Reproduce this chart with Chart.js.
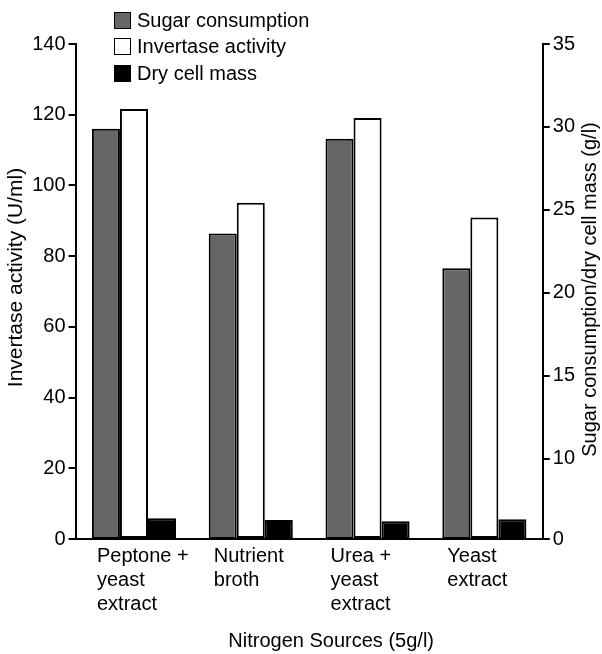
<!DOCTYPE html>
<html lang="en">
<head>
    <meta charset="UTF-8">
    <title>Nitrogen sources</title>
    <script src="https://cdn.jsdelivr.net/npm/chart.js"></script>
    <style>
        body { margin: 0; background: #fff; }
        #wrap { position: relative; width: 602px; height: 654px; }
        #legend { position: absolute; left: 114px; top: 7px; font: 20px 'Liberation Sans', Arial, sans-serif; color: #000; }
        #legend div { display: flex; align-items: center; height: 26.5px; }
        #legend span.box { display: inline-block; width: 15px; height: 15px; border: 1px solid #000; margin-right: 6px; }
    </style>
</head>
<body>
<div id="wrap">
    <canvas id="chart" width="602" height="654"></canvas>
    <div id="legend"></div>
</div>
<script>
    const categories = [['Peptone +', 'yeast', 'extract'], ['Nutrient', 'broth'], ['Urea +', 'yeast', 'extract'], ['Yeast', 'extract']];
    // sugar consumption and dry cell mass in g/l, invertase activity in U/ml
    const sugarConsumption = [29.0, 21.6, 28.3, 19.15];
    const invertaseActivity = [121.6, 95.1, 119.1, 90.9];
    const dryCellMass = [1.47, 1.35, 1.25, 1.40];

    const leftTicks = [0, 20, 40, 60, 80, 100, 120, 140];
    const rightTicks = [10, 15, 20, 25, 30, 35];
    const rightBottomLabel = '0';

    const FONT = "'Liberation Sans', Arial, sans-serif";

    // the printed right axis is not linear down to 0: its "0" sits where ~5.2 would be
    const RIGHT_AXIS_MIN = 5.16;

    const titleShift = { x: 22, y: -14, ySec: -2 };

    const axisTitles = {
        id: 'axisTitles',
        afterDraw(chart) {
            const ctx = chart.ctx;
            const area = chart.chartArea;
            const midY = (area.top + area.bottom) / 2;
            ctx.save();
            ctx.fillStyle = '#000';
            ctx.textAlign = 'center';
            ctx.textBaseline = 'middle';
            Object.keys(titleShift).forEach(id => {
                const scale = chart.scales[id];
                const t = scale.options.title;
                const size = t.font.size;
                const half = size * 1.2 / 2;
                ctx.font = size + 'px ' + FONT;
                ctx.save();
                if (id === 'x') {
                    ctx.translate((area.left + area.right) / 2 + titleShift[id], scale.bottom - half - t.padding.bottom);
                } else if (scale.position === 'left') {
                    ctx.translate(scale.left + t.padding.top + half, midY + titleShift[id]);
                    ctx.rotate(-Math.PI / 2);
                } else {
                    ctx.translate(scale.right - t.padding.top - half, midY + titleShift[id]);
                    ctx.rotate(-Math.PI / 2);
                }
                ctx.fillText(t.text, 0, 0);
                ctx.restore();
            });
            ctx.restore();
        }
    };

    const axisGrid = {
        display: true,
        drawOnChartArea: false,
        drawTicks: true,
        tickLength: 7,
        color: '#000',
        lineWidth: 2
    };

    const ctx = document.getElementById('chart').getContext('2d');
    const chart = new Chart(ctx, {
        type: 'bar',
        data: {
            labels: categories,
            datasets: [{
                label: 'Sugar consumption',
                data: sugarConsumption,
                yAxisID: 'yMass',
                backgroundColor: '#666666',
                borderColor: '#000',
                borderWidth: 2,
                borderSkipped: false
            }, {
                label: 'Invertase activity',
                data: invertaseActivity,
                yAxisID: 'y',
                backgroundColor: '#ffffff',
                borderColor: '#000',
                borderWidth: 2,
                borderSkipped: false
            }, {
                label: 'Dry cell mass',
                data: dryCellMass,
                yAxisID: 'yMass',
                backgroundColor: '#000000',
                borderColor: '#000',
                borderWidth: 2,
                borderSkipped: false
            }]
        },
        options: {
            responsive: false,
            animation: false,
            devicePixelRatio: 1,
            categoryPercentage: 0.72,
            barPercentage: 1.0,
            layout: { padding: { top: 44, left: 0, right: 0, bottom: 0 } },
            plugins: {
                legend: { display: false },
                tooltip: { enabled: false }
            },
            scales: {
                x: {
                    grid: { display: false, drawTicks: false },
                    border: { display: true, color: '#000', width: 2 },
                    ticks: {
                        color: '#000',
                        font: { family: FONT, size: 20 },
                        padding: 5,
                        align: 'start',
                        labelOffset: -37,
                        maxRotation: 0,
                        autoSkip: false
                    },
                    title: {
                        display: true,
                        text: 'Nitrogen Sources (5g/l)',
                        color: 'rgba(0,0,0,0)',
                        font: { family: FONT, size: 20 },
                        padding: { top: 8, bottom: 1 }
                    }
                },
                y: {
                    position: 'left',
                    min: 0,
                    max: 140,
                    afterBuildTicks: scale => { scale.ticks = leftTicks.map(v => ({ value: v })); },
                    grid: axisGrid,
                    border: { display: true, color: '#000', width: 2 },
                    ticks: {
                        color: '#000',
                        font: { family: FONT, size: 20 },
                        padding: 3
                    },
                    title: {
                        display: true,
                        text: 'Invertase activity (U/ml)',
                        color: 'rgba(0,0,0,0)',
                        font: { family: FONT, size: 21 },
                        padding: { top: 4, bottom: 0 }
                    }
                },
                ySec: {
                    position: 'right',
                    min: RIGHT_AXIS_MIN,
                    max: 35,
                    afterBuildTicks: scale => {
                        scale.ticks = [RIGHT_AXIS_MIN].concat(rightTicks).map(v => ({ value: v }));
                    },
                    grid: axisGrid,
                    border: { display: true, color: '#000', width: 2 },
                    ticks: {
                        color: '#000',
                        font: { family: FONT, size: 20 },
                        padding: 3,
                        autoSkip: false,
                        callback: (v, i) => i === 0 ? rightBottomLabel : String(v)
                    },
                    title: {
                        display: true,
                        text: 'Sugar consumption/dry cell mass (g/l)',
                        color: 'rgba(0,0,0,0)',
                        font: { family: FONT, size: 20 },
                        padding: { top: 0, bottom: 0 }
                    }
                },
                yMass: {
                    display: false,
                    position: 'right',
                    min: 0,
                    max: 35
                }
            }
        },
        plugins: [axisTitles]
    });

    const legend = document.getElementById('legend');
    chart.data.datasets.forEach(ds => {
        const row = document.createElement('div');
        row.innerHTML = `<span class="box" style="background:${ds.backgroundColor}"></span>${ds.label}`;
        legend.appendChild(row);
    });
</script>
</body>
</html>
